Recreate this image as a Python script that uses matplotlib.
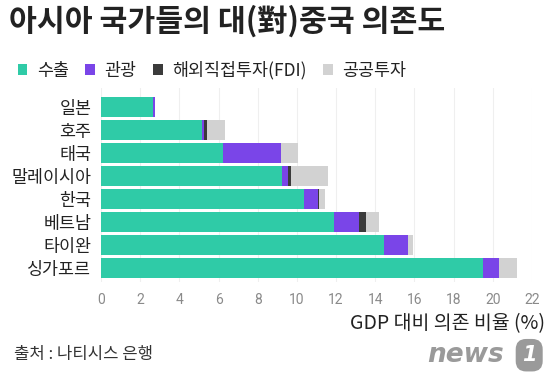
import numpy as np
import matplotlib.pyplot as plt
from matplotlib.patches import Patch

plt.rcParams['font.family'] = ['Noto Sans CJK KR', 'DejaVu Sans']

# --- data (GDP 대비 %) ---
countries = ['일본', '호주', '태국', '말레이시아', '한국', '베트남', '타이완', '싱가포르']
exports = [2.64, 5.14, 6.24, 9.25, 10.36, 11.89, 14.45, 19.50]
tourism = [0.12, 0.12, 2.93, 0.31, 0.70, 1.26, 1.20, 0.82]
fdi = [0.00, 0.15, 0.00, 0.15, 0.05, 0.39, 0.00, 0.00]
public_inv = [0.00, 0.92, 0.87, 1.86, 0.33, 0.66, 0.27, 0.92]

series_names = ['수출', '관광', '해외직접투자(FDI)', '공공투자']
colors = ['#2fcba7', '#7a45e8', '#3b3b3b', '#d2d2d2']
xticks = list(range(0, 23, 2))

fig = plt.figure(figsize=(5.6, 3.84), dpi=100)
ax = fig.add_axes([0.1804, 0.2656, 0.7696, 0.5052])

y = np.arange(len(countries))
left = np.zeros(len(countries))
for vals, name, c in zip([exports, tourism, fdi, public_inv], series_names, colors):
    ax.barh(y, vals, left=left, height=0.84, color=c, label=name, zorder=3)
    left = left + np.array(vals)

ax.set_xlim(0, 22)
ax.set_ylim(7.61, -0.83)
ax.set_xticks(xticks)
ax.set_xticklabels([str(t) for t in xticks], fontsize=10, color='#8a8a8a',
                   family=['Roboto', 'DejaVu Sans'])
ax.set_yticks(y)
ax.set_yticklabels(countries, fontsize=12.5, color='#222222')
ax.tick_params(length=0)
ax.tick_params(axis='x', pad=8)
ax.tick_params(axis='y', pad=7)
ax.grid(axis='x', color='#efefef', linewidth=0.8, zorder=0)
for s in ax.spines.values():
    s.set_visible(False)

# title
fig.text(0.016, 0.943, '아시아 국가들의 대(對)중국 의존도', fontsize=21.8, fontweight='bold',
         color='#222222', va='center', ha='left')

# legend
handles = [Patch(facecolor=c, edgecolor='none') for c in colors]
fig.legend(handles, series_names, loc='center left', bbox_to_anchor=(0.004, 0.817),
           ncol=4, frameon=False, fontsize=12.5, handlelength=0.55, handleheight=0.55,
           handletextpad=0.55, columnspacing=0.95, labelcolor='#222222')

# axis label
fig.text(0.973, 0.158, 'GDP 대비 의존 비율 (%)', fontsize=14, color='#222222',
         ha='right', va='center')

# source
fig.text(0.025, 0.076, '출처 : 나티시스 은행', fontsize=12, color='#333333',
         ha='left', va='center')

# logo
fig.text(0.900, 0.075, 'news', fontsize=19, fontstyle='italic', fontweight='bold',
         color='#9a9a9a', ha='right', va='center', family=['DejaVu Sans'])
fig.text(0.945, 0.075, '1', fontsize=15, fontstyle='italic', fontweight='bold',
         color='white', ha='center', va='center', family=['DejaVu Sans'],
         bbox=dict(boxstyle='round,pad=0.3,rounding_size=0.5', fc='#9a9a9a', ec='none'))

fig.savefig('out.png', dpi=100, facecolor='white')
